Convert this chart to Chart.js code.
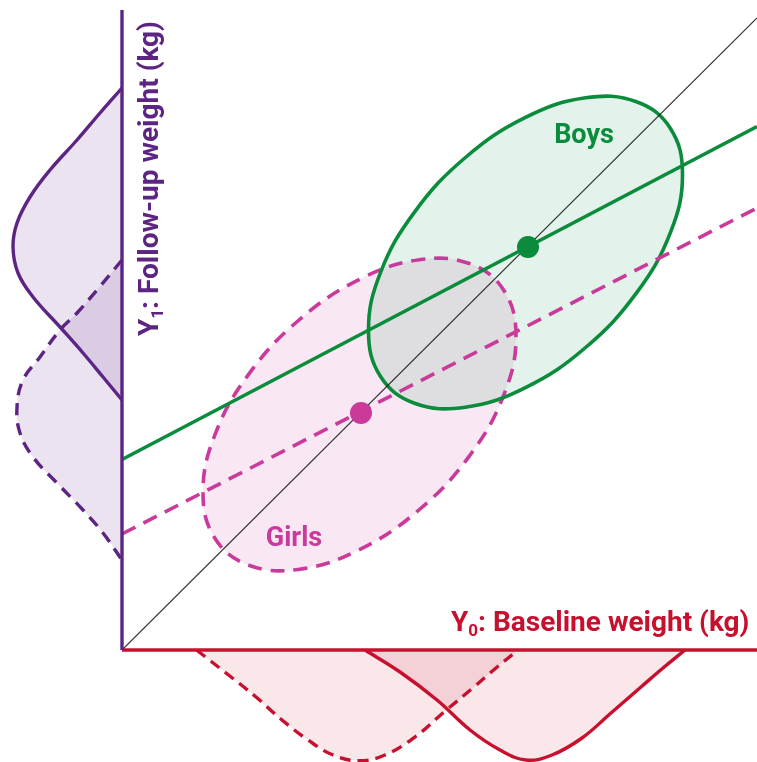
<!DOCTYPE html>
<html>
<head>
<meta charset="utf-8">
<title>Baseline vs follow-up weight</title>
<script src="https://cdn.jsdelivr.net/npm/chart.js@4.4.1/dist/chart.umd.min.js"></script>
<style>
  html, body { margin: 0; padding: 0; background: #fff; }
  canvas { display: block; }
</style>
</head>
<body>
<canvas id="chart" width="757" height="762"></canvas>
<script>
// ---- data (1 unit = 10 px, origin at the axes corner) ----

// group means: baseline (x) and follow-up (y)
const groups = ['Boys', 'Girls'];
const meanX = [40.6, 23.9];
const meanY = [40.3, 23.7];

// regression lines, follow-up at both ends of the baseline axis
const fitX = [0, 63.5];
const boysFitY = [19.05, 52.35];
const girlsFitY = [11.6, 44.2];

// identity line
const identX = [0, 63.5];
const identY = [0, 63.2];

// axes extents
const axisTop = 64;
const axisRight = 63.5;

// ellipse outlines
const boysEllX = [56.05, 54.86, 51.45, 46.36, 40.35, 34.34, 29.25, 25.84, 24.65, 25.84, 29.25, 34.34, 40.35, 46.36, 51.45, 54.86];
const boysEllY = [47.55, 52.13, 54.82, 55.22, 53.26, 49.25, 43.79, 37.71, 31.95, 27.37, 24.68, 24.28, 26.24, 30.25, 35.71, 41.79];
const girlsEllX = [39.4, 38.21, 34.82, 29.74, 23.75, 17.76, 12.68, 9.29, 8.1, 9.29, 12.68, 17.76, 23.75, 29.74, 34.82, 38.21];
const girlsEllY = [31.35, 35.93, 38.62, 39.02, 37.06, 33.05, 27.59, 21.51, 15.75, 11.17, 8.48, 8.08, 10.04, 14.05, 19.51, 25.59];

// follow-up densities (drawn to the left of the y axis)
const boysY1DensX = [0, -2.2, -4.5, -7.2, -9.2, -10.5, -10.9, -10.4, -8.9, -6.2, -3.9, -1.9, 0];
const boysY1DensY = [56.2, 53.7, 51.0, 48.0, 45.3, 42.7, 40.3, 37.7, 35.3, 32.3, 29.7, 27.3, 25.0];
const girlsY1DensX = [0, -2.5, -4.5, -6.2, -8.2, -9.9, -10.5, -10.2, -8.9, -6.5, -3.9, -1.9, 0];
const girlsY1DensY = [39.0, 36.0, 33.7, 32.0, 29.3, 27.0, 24.3, 21.7, 19.3, 16.7, 14.0, 11.7, 9.0];

// baseline densities (drawn below the x axis)
const girlsY0DensX = [7.45, 10.4, 13.4, 16.0, 18.6, 21.1, 23.7, 26.3, 29.3, 32.2, 35.2, 37.4, 39.6];
const girlsY0DensY = [0, -2.3, -4.7, -7.0, -9.0, -10.5, -11.07, -10.5, -8.7, -6.2, -3.7, -1.8, 0];
const boysY0DensX = [24.3, 27.8, 31.5, 34.8, 37.8, 40.4, 43.0, 46.0, 48.9, 51.9, 54.1, 56.3];
const boysY0DensY = [0, -2.2, -5.0, -8.0, -10.0, -11.0, -10.5, -8.8, -6.3, -3.7, -1.8, 0];

// ---- styles ----
const purple = '#5c2483';
const crimson = '#c8102e';
const green = '#0a8c3c';
const pink = '#c93a9b';

const pts = (xs, ys) => xs.map((x, i) => ({ x: x, y: ys[i] }));

// bottom to top
let layers = [
  { data: pts(boysY1DensX, boysY1DensY), borderColor: purple, borderWidth: 3.4, backgroundColor: 'rgba(92,36,131,0.12)', fill: 'shape', tension: 0.4 },
  { data: pts(girlsY1DensX, girlsY1DensY), borderColor: purple, borderWidth: 3.4, borderDash: [12, 8], backgroundColor: 'rgba(92,36,131,0.12)', fill: 'shape', tension: 0.4 },
  { data: pts(girlsY0DensX, girlsY0DensY), borderColor: crimson, borderWidth: 3.4, borderDash: [11, 7], backgroundColor: 'rgba(200,16,46,0.10)', fill: 'shape', tension: 0.4 },
  { data: pts(boysY0DensX, boysY0DensY), borderColor: crimson, borderWidth: 3.4, backgroundColor: 'rgba(200,16,46,0.10)', fill: 'shape', tension: 0.4 },
  { data: pts(girlsEllX, girlsEllY), closed: true, borderColor: pink, borderWidth: 3.6, borderDash: [14, 9], backgroundColor: 'rgba(200,50,146,0.11)', fill: 'shape', tension: 0.4 },
  { data: pts(boysEllX, boysEllY), closed: true, borderColor: green, borderWidth: 3.6, backgroundColor: 'rgba(0,140,60,0.11)', fill: 'shape', tension: 0.4 },
  { data: pts(identX, identY), borderColor: 'rgba(20,20,20,0.85)', borderWidth: 1.1 },
  { data: pts(fitX, girlsFitY), borderColor: pink, borderWidth: 3.6, borderDash: [15, 9] },
  { data: pts(fitX, boysFitY), borderColor: green, borderWidth: 3.6 },
  { data: [{ x: 0, y: 0 }, { x: axisRight, y: 0 }], borderColor: crimson, borderWidth: 3.4 },
  { data: [{ x: 0, y: 0 }, { x: 0, y: axisTop }], borderColor: purple, borderWidth: 3.4 },
  { data: [{ x: meanX[1], y: meanY[1] }], showLine: false, pointRadius: 11, pointBackgroundColor: pink, pointBorderWidth: 0 },
  { data: [{ x: meanX[0], y: meanY[0] }], showLine: false, pointRadius: 11, pointBackgroundColor: green, pointBorderWidth: 0 }
];
layers.forEach((d, i) => { d.order = layers.length - i; });

// make the ellipse outlines real closed loops so the curve is smooth all round
const closeLoops = {
  id: 'closeLoops',
  afterDatasetsUpdate(chart) {
    chart.data.datasets.forEach((ds, i) => {
      if (ds.closed) {
        let line = chart.getDatasetMeta(i).dataset;
        line._loop = true;
        line._fullLoop = true;
      }
    });
  }
};

function subTitle(ctx, pieces, color) {
  let cx = 0;
  ctx.fillStyle = color;
  ctx.textAlign = 'left';
  ctx.textBaseline = 'alphabetic';
  pieces.forEach(([txt, sub]) => {
    ctx.font = sub ? 'bold 17px Roboto' : 'bold 28px Roboto';
    ctx.fillText(txt, cx, sub ? 5 : 0);
    cx += ctx.measureText(txt).width;
  });
}

const texts = {
  id: 'texts',
  afterDraw(chart) {
    const ctx = chart.ctx;
    const xs = chart.scales.x, ys = chart.scales.y;
    const ox = xs.getPixelForValue(0), oy = ys.getPixelForValue(0);
    ctx.save();
    ctx.font = 'bold 27px Roboto';
    ctx.textAlign = 'center';
    ctx.textBaseline = 'alphabetic';
    ctx.fillStyle = green;
    ctx.fillText(groups[0], xs.getPixelForValue(46.2), ys.getPixelForValue(50.7));
    ctx.fillStyle = pink;
    ctx.fillText(groups[1], xs.getPixelForValue(17.2), ys.getPixelForValue(10.4));

    ctx.save();
    ctx.translate(ox + 329, oy - 19);
    subTitle(ctx, [['Y', false], ['0', true], [': Baseline weight (kg)', false]], crimson);
    ctx.restore();

    ctx.save();
    ctx.translate(ox + 36, oy - 314);
    ctx.rotate(-Math.PI / 2);
    subTitle(ctx, [['Y', false], ['1', true], [': Follow-up weight (kg)', false]], purple);
    ctx.restore();
    ctx.restore();
  }
};

new Chart(document.getElementById('chart'), {
  type: 'line',
  data: { datasets: layers },
  options: {
    responsive: false,
    animation: false,
    events: [],
    layout: { padding: 0, autoPadding: false },
    elements: { point: { radius: 0 }, line: { borderCapStyle: 'butt' } },
    scales: {
      x: { type: 'linear', min: -12.2, max: 63.5, display: false },
      y: { type: 'linear', min: -11.2, max: 65.0, display: false }
    },
    plugins: {
      legend: { display: false },
      tooltip: { enabled: false },
      filler: { drawTime: 'beforeDatasetsDraw' }
    }
  },
  plugins: [closeLoops, texts]
});
</script>
</body>
</html>
